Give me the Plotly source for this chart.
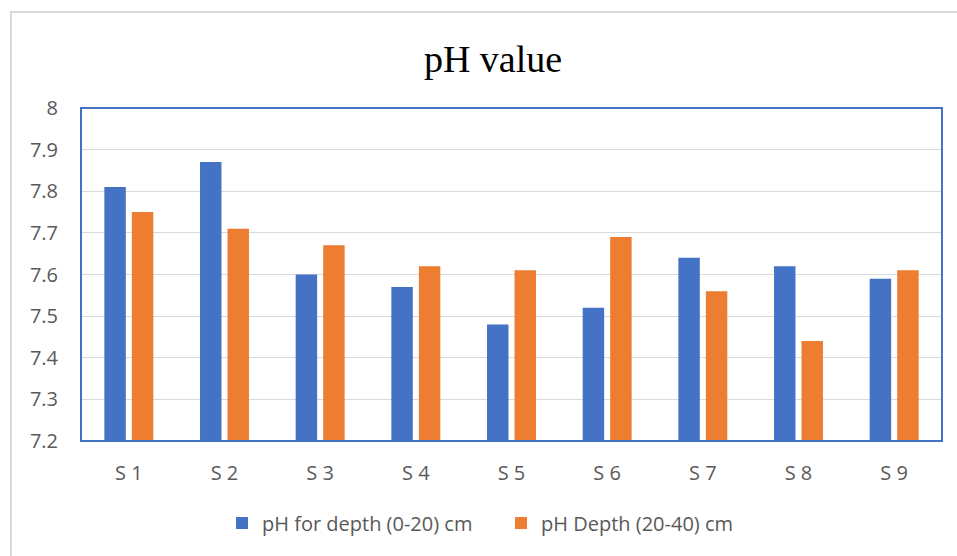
import plotly.graph_objects as go

categories = ["S 1", "S 2", "S 3", "S 4", "S 5", "S 6", "S 7", "S 8", "S 9"]
ph_0_20 = [7.81, 7.87, 7.60, 7.57, 7.48, 7.52, 7.64, 7.62, 7.59]
ph_20_40 = [7.75, 7.71, 7.67, 7.62, 7.61, 7.69, 7.56, 7.44, 7.61]
y_ticks = [7.2, 7.3, 7.4, 7.5, 7.6, 7.7, 7.8, 7.9, 8.0]
y_tick_text = ["7.2", "7.3", "7.4", "7.5", "7.6", "7.7", "7.8", "7.9", "8"]

fig = go.Figure()
fig.add_trace(go.Bar(x=categories, y=ph_0_20, name="pH for depth (0-20) cm",
                     marker=dict(color="#4472C4", line=dict(width=0))))
fig.add_trace(go.Bar(x=categories, y=ph_20_40, name="pH Depth (20-40) cm",
                     marker=dict(color="#ED7D31", line=dict(width=0))))

W, H = 957, 556
L, R, T, B = 81, 15, 108, 115
pw, ph = W - L - R, H - T - B

def px_x(x):
    return (x - L) / pw

def px_y(y):
    return (H - B - y) / ph

FS = 20
fig.update_layout(
    width=W, height=H,
    margin=dict(l=L, r=R, t=T, b=B),
    paper_bgcolor="white", plot_bgcolor="white",
    barmode="group", bargap=0.425, bargroupgap=0.22,
    font=dict(family="Open Sans", color="#595959", size=FS),
    title=dict(text="pH value", x=493 / W, xanchor="center", y=1 - 59 / H, yanchor="middle",
               font=dict(family="Liberation Serif", size=38, color="#000000")),
    legend=dict(orientation="h", x=px_x(222), xanchor="left", y=px_y(523), yanchor="middle",
                font=dict(size=FS, color="#595959"), itemwidth=30, tracegroupgap=0,
                entrywidth=234),
    showlegend=True,
    shapes=[
        dict(type="rect", xref="paper", yref="paper",
             x0=px_x(11), x1=px_x(965), y0=px_y(565), y1=px_y(12),
             line=dict(color="#D9D9D9", width=2), fillcolor="rgba(0,0,0,0)", layer="below"),
        dict(type="rect", xref="paper", yref="paper", x0=0, x1=1, y0=0, y1=1,
             line=dict(color="#4472C4", width=2), fillcolor="rgba(0,0,0,0)", layer="above"),
    ],
)
fig.update_yaxes(range=[7.2, 8.0], tickvals=y_ticks, ticktext=y_tick_text,
                 showgrid=True, gridcolor="#D9D9D9", gridwidth=1, zeroline=False,
                 showline=False, ticks="", ticklabelstandoff=22,
                 tickfont=dict(size=FS, color="#595959"))
fig.update_xaxes(showgrid=False, showline=False, ticks="", ticklabelstandoff=18,
                 tickfont=dict(size=FS, color="#595959"))

fig.write_html("out.html")
